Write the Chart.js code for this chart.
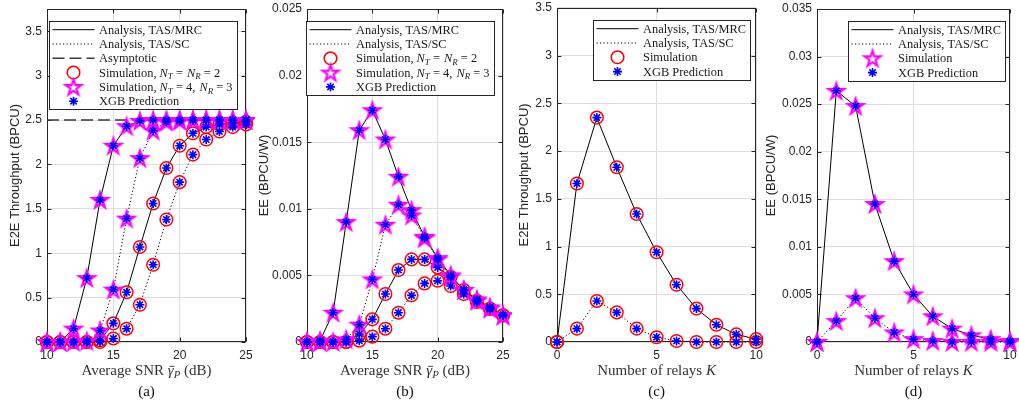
<!DOCTYPE html>
<html><head><meta charset="utf-8">
<script src="https://cdn.jsdelivr.net/npm/chart.js@4.4.1/dist/chart.umd.min.js"></script>
<style>
html,body{margin:0;padding:0;background:#fff;}
#wrap{position:relative;width:1019px;height:405px;overflow:hidden;background:#fff;}
canvas{position:absolute;top:0;}
</style></head><body>
<div id="wrap">
<canvas id="ca" width="255" height="405" style="left:0px"></canvas>
<canvas id="cb" width="257" height="405" style="left:255px"></canvas>
<canvas id="cc" width="252" height="405" style="left:512px"></canvas>
<canvas id="cd" width="255" height="405" style="left:764px"></canvas>
</div>
<script>
// ---------------- data ----------------
const snrDb   = [10,11,12,13,14,15,16,17,18,19,20,21,22,23,24,25];
const relaysK = [0,1,2,3,4,5,6,7,8,9,10];

// (a) E2E throughput vs SNR
const thrMrc22 = [0,0,0,0,0.02,0.21,0.56,1.07,1.56,1.96,2.21,2.35,2.42,2.45,2.47,2.48];
const thrSc22  = [0,0,0,0,0,0.04,0.15,0.42,0.87,1.38,1.80,2.11,2.28,2.37,2.42,2.45];
const thrMrc43 = [0,0,0.15,0.72,1.60,2.21,2.43,2.49,2.50,2.50,2.50,2.50,2.50,2.50,2.50,2.50];
const thrSc43  = [0,0,0,0.01,0.13,0.59,1.39,2.07,2.38,2.48,2.49,2.50,2.50,2.50,2.50,2.50];
const thrAsymptote = 2.5;

// (b) EE vs SNR
const eeMrc22 = [0,0,0,0,0.0006,0.0017,0.0036,0.0054,0.0062,0.0062,0.0056,0.0049,0.0039,0.0031,0.0025,0.0020];
const eeSc22  = [0,0,0,0,0.0001,0.0004,0.0010,0.0022,0.0035,0.0044,0.0046,0.0042,0.0036,0.0030,0.0025,0.0020];
const eeMrc43 = [0,0.0001,0.0022,0.0090,0.0159,0.0174,0.0152,0.0124,0.0099,0.0079,0.0063,0.0050,0.0039,0.0032,0.0026,0.0020];
const eeSc43  = [0,0,0,0.0002,0.0013,0.0047,0.0088,0.0103,0.0095,0.0078,0.0062,0.0049,0.0039,0.0031,0.0025,0.0020];

// (c) E2E throughput vs K
const thrKMrc = [0,1.66,2.35,1.83,1.34,0.94,0.60,0.35,0.18,0.08,0.03];
const thrKSc  = [0,0.14,0.43,0.31,0.14,0.05,0.01,0,0,0,0];

// (d) EE vs K
const eeKMrc = [0,0.0264,0.0248,0.0145,0.0085,0.0050,0.0027,0.0014,0.0007,0.0003,0.0001];
const eeKSc  = [0,0.0022,0.0046,0.0025,0.0010,0.0003,0.0001,0,0,0,0];

// tick labels
const snrTicks   = [10,15,20,25];
const relayTicks = [0,5,10];
const thrTicks   = [0,0.5,1,1.5,2,2.5,3,3.5];
const eeSnrTicks = [0,0.005,0.01,0.015,0.02,0.025];
const eeKTicks   = [0,0.005,0.01,0.015,0.02,0.025,0.03,0.035];

// text
const yTitleThr = 'E2E Throughput (BPCU)';
const yTitleEE  = 'EE (BPCU/W)';
const xTitleSnr = [{t:'Average SNR '},{t:'\u03b3',i:1,bar:1},{t:'P',i:1,s:1},{t:' (dB)'}];
const xTitleK   = [{t:'Number of relays '},{t:'K',i:1}];
const lgMrc = [{t:'Analysis, TAS/MRC'}];
const lgSc  = [{t:'Analysis, TAS/SC'}];
const lgAsy = [{t:'Asymptotic'}];
const lgSim22 = [{t:'Simulation, '},{t:'N',i:1},{t:'T',i:1,s:1},{t:' = ',pad:1},{t:'N',i:1},{t:'R',i:1,s:1},{t:' = 2',pad:0}];
const lgSim43 = [{t:'Simulation, '},{t:'N',i:1},{t:'T',i:1,s:1},{t:' = 4, ',pad:1},{t:'N',i:1},{t:'R',i:1,s:1},{t:' = 3'}];
const lgSim = [{t:'Simulation'}];
const lgXgb = [{t:'XGB Prediction'}];

// ---------------- styling helpers ----------------
const AX = '#262626';
const SANS = '"Liberation Sans", Arial, sans-serif';
const SERIF = '"Liberation Serif", "Times New Roman", serif';

function makeStar(R, lw, color){
  const s = Math.ceil(2*R + 2*lw + 3);
  const c = document.createElement('canvas'); c.width = s; c.height = s;
  const g = c.getContext('2d');
  const cx = s/2, cy = s/2 + R*0.08, r = R*0.382;
  g.beginPath();
  for (let k=0;k<10;k++){
    const rad = (k%2) ? r : R;
    const a = -Math.PI/2 + k*Math.PI/5;
    const x = cx + rad*Math.cos(a), y = cy + rad*Math.sin(a);
    if (k) g.lineTo(x,y); else g.moveTo(x,y);
  }
  g.closePath(); g.strokeStyle = color; g.lineWidth = lw; g.lineJoin = 'miter'; g.stroke();
  return c;
}
const STAR = makeStar(8.3, 2.1, '#ff00ff');

function pts(xs, ys){ return xs.map((x,i)=>({x:x, y:ys[i]})); }
function lineDs(xs, ys, dotted){
  return {data:pts(xs,ys), showLine:true, borderColor:'#000', borderWidth:1, borderDash: dotted?[1.2,2.3]:[],
          pointRadius:0, fill:false, tension:0, clip:false, order:3};
}
function asyDs(xs, v){
  return {data:[{x:xs[0],y:v},{x:xs[xs.length-1],y:v}], showLine:true, borderColor:'#3a3a3a', borderWidth:1.5,
          borderDash:[12,5], pointRadius:0, fill:false, clip:false, order:4};
}
function circDs(xs, ys){
  return {data:pts(xs,ys), showLine:false, pointStyle:'circle', pointRadius:6.3, borderColor:'#ff0000',
          backgroundColor:'rgba(0,0,0,0)', pointBorderWidth:1.5, borderWidth:1.5, clip:false, order:2};
}
function starDs(xs, ys){
  return {data:pts(xs,ys), showLine:false, pointStyle:STAR, pointRadius:8, borderColor:'#ff00ff',
          backgroundColor:'#ff00ff', clip:false, order:1};
}
function astDs(xs, ys){
  return {data:pts(xs,ys), showLine:false, pointStyle:'star', pointRadius:4.5, borderColor:'#0000ff',
          backgroundColor:'#0000ff', pointBorderWidth:1.6, borderWidth:1.6, clip:false, order:0};
}

function segFont(sg, size){
  const sz = sg.s ? size*0.72 : size;
  return (sg.i ? 'italic ' : '') + sz.toFixed(2) + 'px ' + SERIF;
}
function segsWidth(ctx, segs, size){
  let w = 0;
  segs.forEach(sg=>{ ctx.font = segFont(sg,size); w += ctx.measureText(sg.t).width + (sg.pad||0); });
  return w;
}
function drawSegs(ctx, segs, x, y, size, color){
  ctx.save();
  ctx.fillStyle = color; ctx.strokeStyle = color; ctx.textBaseline = 'alphabetic'; ctx.textAlign = 'left';
  segs.forEach(sg=>{
    ctx.font = segFont(sg,size);
    const yy = sg.s ? y + size*0.22 : y;
    ctx.fillText(sg.t, x, yy);
    const w = ctx.measureText(sg.t).width;
    if (sg.bar){
      ctx.lineWidth = 0.9; ctx.beginPath();
      ctx.moveTo(x + size*0.12, y - size*0.58); ctx.lineTo(x + w + size*0.05, y - size*0.58); ctx.stroke();
    }
    x += w + (sg.pad||0);
  });
  ctx.restore();
}

function drawSample(ctx, kind, x0, x1, cy){
  ctx.save();
  const xm = (x0+x1)/2;
  if (kind==='solid' || kind==='dotted' || kind==='dashed'){
    ctx.beginPath();
    ctx.strokeStyle = kind==='dashed' ? '#3a3a3a' : '#000';
    ctx.lineWidth = kind==='dashed' ? 1.5 : 1;
    ctx.setLineDash(kind==='dotted' ? [1.2,2.3] : kind==='dashed' ? [12,5] : []);
    ctx.moveTo(x0, cy); ctx.lineTo(x1, cy); ctx.stroke();
  } else if (kind==='circle'){
    ctx.beginPath(); ctx.strokeStyle = '#ff0000'; ctx.lineWidth = 1.5;
    ctx.arc(xm, cy, 6.3, 0, Math.PI*2); ctx.stroke();
  } else if (kind==='star'){
    ctx.drawImage(STAR, xm - STAR.width/2, cy - STAR.height/2);
  } else if (kind==='ast'){
    ctx.strokeStyle = '#0000ff'; ctx.lineWidth = 1.6; ctx.beginPath();
    const r = 4.5;
    for (let k=0;k<4;k++){
      const a = k*Math.PI/4;
      ctx.moveTo(xm - r*Math.cos(a), cy - r*Math.sin(a));
      ctx.lineTo(xm + r*Math.cos(a), cy + r*Math.sin(a));
    }
    ctx.stroke();
  }
  ctx.restore();
}

const decor = {
  id: 'decor',
  beforeDatasetsDraw(chart){
    const ctx = chart.ctx, a = chart.chartArea;
    const L = Math.round(a.left)+0.5, R = Math.round(a.right)-0.5, T = Math.round(a.top)+0.5, B = Math.round(a.bottom)-0.5;
    ctx.save();
    ctx.strokeStyle = AX; ctx.lineWidth = 1;
    ctx.beginPath();
    const xs = chart.scales.x, ys = chart.scales.y, tl = 4;
    xs.ticks.forEach(t=>{
      const p = Math.round(xs.getPixelForValue(t.value))+0.5;
      ctx.moveTo(p, B); ctx.lineTo(p, B-tl); ctx.moveTo(p, T); ctx.lineTo(p, T+tl);
    });
    ys.ticks.forEach(t=>{
      const p = Math.round(ys.getPixelForValue(t.value))+0.5;
      ctx.moveTo(L, p); ctx.lineTo(L+tl, p); ctx.moveTo(R, p); ctx.lineTo(R-tl, p);
    });
    ctx.stroke();
    ctx.strokeRect(L, T, R-L, B-T);
    ctx.restore();
  },
  afterDraw(chart){
    const cfg = PANEL[chart.canvas.id];
    const ctx = chart.ctx, a = chart.chartArea;
    // y title
    ctx.save();
    ctx.translate(cfg.yTitleX, (a.top+a.bottom)/2);
    ctx.rotate(-Math.PI/2);
    ctx.font = '13px ' + SANS; ctx.fillStyle = AX; ctx.textAlign = 'center'; ctx.textBaseline = 'middle';
    ctx.fillText(cfg.yTitle, 0, 0);
    ctx.restore();
    // x title
    const size = 15;
    const w = segsWidth(ctx, cfg.xTitle, size);
    const cx = (a.left + a.right)/2;
    drawSegs(ctx, cfg.xTitle, cx - w/2, 375, size, '#333');
    // caption
    ctx.save();
    ctx.font = size + 'px ' + SERIF; ctx.fillStyle = '#111'; ctx.textAlign = 'center'; ctx.textBaseline = 'alphabetic';
    ctx.fillText(cfg.caption, cx, 396);
    ctx.restore();
    // legend
    const lg = cfg.legend, fs = 12.4, rowH = 14.3;
    let maxW = 0;
    lg.rows.forEach(r=>{ maxW = Math.max(maxW, segsWidth(ctx, r.text, fs)); });
    const left = Math.round(a.left + lg.dx) + 0.5, top = Math.round(a.top + lg.dy) + 0.5;
    const bw = Math.round(49.5 + maxW + 5), bh = Math.round(lg.rows.length*rowH + 2.5);
    ctx.save();
    ctx.fillStyle = '#fff'; ctx.fillRect(left, top, bw, bh);
    ctx.strokeStyle = '#262626'; ctx.lineWidth = 1; ctx.strokeRect(left, top, bw, bh);
    ctx.restore();
    lg.rows.forEach((r,i)=>{
      const cy = top + 8.2 + i*rowH;
      drawSample(ctx, r.kind, left + 3, left + 45, cy);
      drawSegs(ctx, r.text, left + 49.5, cy + 4, fs, '#1a1a1a');
    });
  }
};

const PANEL = {
  ca: {yW:47, padR:7, yTitleX:15.5, yTitle:yTitleThr, xTitle:xTitleSnr, caption:'(a)',
       legend:{dx:2, dy:11.5, rows:[{kind:'solid',text:lgMrc},{kind:'dotted',text:lgSc},{kind:'dashed',text:lgAsy},
               {kind:'circle',text:lgSim22},{kind:'star',text:lgSim43},{kind:'ast',text:lgXgb}]}},
  cb: {yW:52, padR:7, yTitleX:9, yTitle:yTitleEE, xTitle:xTitleSnr, caption:'(b)',
       legend:{dx:-1, dy:12, rows:[{kind:'solid',text:lgMrc},{kind:'dotted',text:lgSc},
               {kind:'circle',text:lgSim22},{kind:'star',text:lgSim43},{kind:'ast',text:lgXgb}]}},
  cc: {yW:45, padR:7, yTitleX:12, yTitle:yTitleThr, xTitle:xTitleK, caption:'(c)',
       legend:{dx:36, dy:12, rows:[{kind:'solid',text:lgMrc},{kind:'dotted',text:lgSc},
               {kind:'circle',text:lgSim},{kind:'ast',text:lgXgb}]}},
  cd: {yW:53, padR:6, yTitleX:7, yTitle:yTitleEE, xTitle:xTitleK, caption:'(d)',
       legend:{dx:31, dy:12, rows:[{kind:'solid',text:lgMrc},{kind:'dotted',text:lgSc},
               {kind:'star',text:lgSim},{kind:'ast',text:lgXgb}]}}
};

function fmt(v){ return String(+(+v).toFixed(4)); }

function makeChart(id, datasets, xr, xt, yr, yt){
  const p = PANEL[id];
  return new Chart(document.getElementById(id), {
    type:'scatter',
    data:{datasets:datasets},
    options:{
      responsive:false, animation:false, devicePixelRatio:1, events:[],
      layout:{padding:{top:6, right:p.padR, left:0, bottom:0}},
      plugins:{legend:{display:false}, tooltip:{enabled:false}},
      scales:{
        x:{type:'linear', min:xr[0], max:xr[1],
           afterBuildTicks:s=>{ s.ticks = xt.map(v=>({value:v})); },
           afterFit:s=>{ s.height = 63; s.paddingLeft = 0; s.paddingRight = 0; },
           grid:{color:'#dedede', lineWidth:1, drawTicks:false},
           border:{display:false},
           ticks:{padding:6, color:AX, font:{family:SANS, size:12}, maxRotation:0, callback:fmt}},
        y:{type:'linear', min:yr[0], max:yr[1],
           afterBuildTicks:s=>{ s.ticks = yt.map(v=>({value:v})); },
           afterFit:s=>{ s.width = p.yW; s.paddingTop = 0; s.paddingBottom = 0; },
           grid:{color:'#dedede', lineWidth:1, drawTicks:false},
           border:{display:false},
           ticks:{padding:5, color:AX, font:{family:SANS, size:12}, callback:fmt}}
      }
    },
    plugins:[decor]
  });
}

makeChart('ca', [
  asyDs(snrDb, thrAsymptote),
  lineDs(snrDb, thrMrc22, false), lineDs(snrDb, thrSc22, true),
  lineDs(snrDb, thrMrc43, false), lineDs(snrDb, thrSc43, true),
  circDs(snrDb, thrMrc22), circDs(snrDb, thrSc22),
  starDs(snrDb, thrMrc43), starDs(snrDb, thrSc43),
  astDs(snrDb, thrMrc22), astDs(snrDb, thrSc22), astDs(snrDb, thrMrc43), astDs(snrDb, thrSc43)
], [10,25], snrTicks, [0,3.75], thrTicks);

makeChart('cb', [
  lineDs(snrDb, eeMrc22, false), lineDs(snrDb, eeSc22, true),
  lineDs(snrDb, eeMrc43, false), lineDs(snrDb, eeSc43, true),
  circDs(snrDb, eeMrc22), circDs(snrDb, eeSc22),
  starDs(snrDb, eeMrc43), starDs(snrDb, eeSc43),
  astDs(snrDb, eeMrc22), astDs(snrDb, eeSc22), astDs(snrDb, eeMrc43), astDs(snrDb, eeSc43)
], [10,25], snrTicks, [0,0.025], eeSnrTicks);

makeChart('cc', [
  lineDs(relaysK, thrKMrc, false), lineDs(relaysK, thrKSc, true),
  circDs(relaysK, thrKMrc), circDs(relaysK, thrKSc),
  astDs(relaysK, thrKMrc), astDs(relaysK, thrKSc)
], [0,10], relayTicks, [0,3.5], thrTicks);

makeChart('cd', [
  lineDs(relaysK, eeKMrc, false), lineDs(relaysK, eeKSc, true),
  starDs(relaysK, eeKMrc), starDs(relaysK, eeKSc),
  astDs(relaysK, eeKMrc), astDs(relaysK, eeKSc)
], [0,10], relayTicks, [0,0.035], eeKTicks);
</script>
</body></html>
